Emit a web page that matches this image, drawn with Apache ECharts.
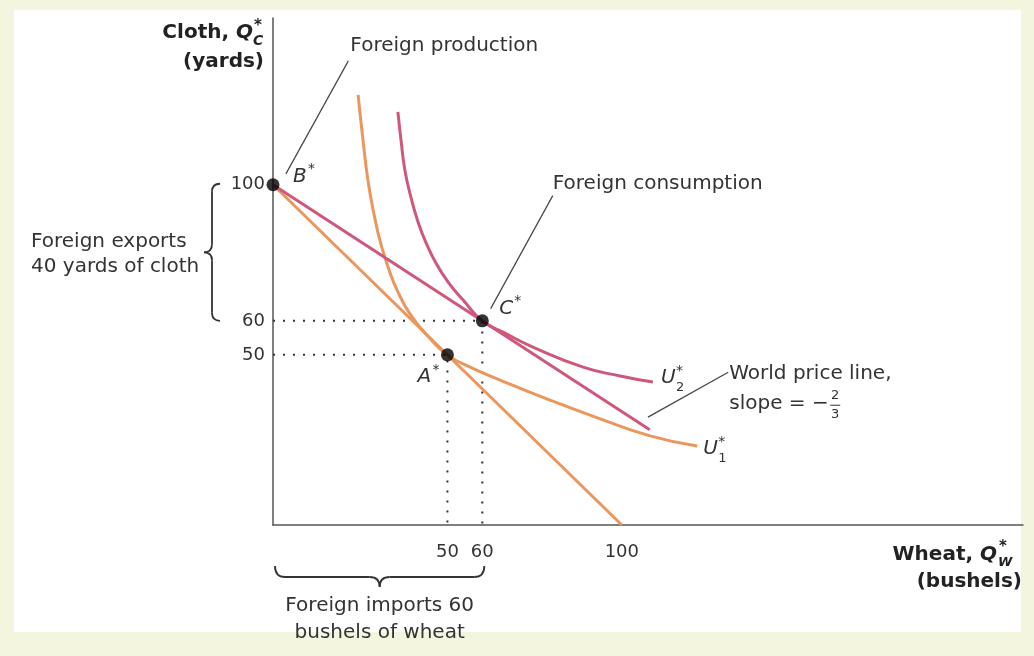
<!DOCTYPE html>
<html><head><meta charset="utf-8">
<script src="https://cdn.jsdelivr.net/npm/echarts/dist/echarts.min.js"></script>
<style>html,body{margin:0;padding:0;background:#f3f5df;}#c{width:1034px;height:656px;}</style>
</head><body><div id="c"></div>
<script>
// ---- data ----
const xTickValues = [50, 60, 100];
const yTickValues = [50, 60, 100];
const ppfLine = [[0, 100], [100, 0]];
const worldPriceLine = [[0, 100], [108, 28]];
const u1Curve = [[24.4,126.4],[25.8,113.1],[27.2,101.4],[29,91.1],[31,82.3],[33.3,74.9],[35.8,68.5],[39.3,62],[44.4,55.5],[50,50],[56.5,46.4],[65.1,42.6],[79.4,36.7],[93.8,31.2],[108.1,26.2],[121.6,23.2]];
const u2Curve = [[35.8,121.4],[36.7,113.1],[37.8,104.3],[39.6,96.1],[41.6,89],[43.9,82.9],[46.7,77],[50.2,71.4],[54.5,66.1],[60,60],[66.5,56.4],[74.5,52.3],[88.9,46.4],[99.5,43.8],[108.9,42]];
const pointNames = ['A', 'B', 'C'];
const pointX = [50, 0, 60];
const pointY = [50, 100, 60];
const guideA = [[0, 50], [50, 50], [50, 0]];
const guideC = [[0, 60], [60, 60], [60, 0]];
const leaderProduction = [[21.6, 136.4], [3.7, 103.2]];
const leaderConsumption = [[80.2, 96.8], [62.4, 63.6]];
const leaderWorld = [[130.5, 44.9], [107.5, 31.7]];

const ORANGE = '#ea965c', PINK = '#cf577a', INK = '#333333', FONT = 'DejaVu Sans';

const chart = echarts.init(document.getElementById('c'), null, {renderer: 'canvas'});
const lineSeries = (data, color, width, extra) => Object.assign({
  type: 'line', data, symbol: 'none', silent: true, animation: false,
  lineStyle: {color, width}, z: 3
}, extra || {});

chart.setOption({
  backgroundColor: '#f3f5df',
  animation: false,
  grid: {left: 273, right: 11, top: 18, bottom: 131, containLabel: false},
  xAxis: {
    type: 'value', min: 0, max: 215, interval: 10,
    axisLine: {lineStyle: {color: '#555', width: 1.5}},
    axisTick: {show: false}, splitLine: {show: false},
    axisLabel: {margin: 18, fontSize: 18, fontFamily: FONT, color: INK, showMaxLabel: false,
      formatter: v => xTickValues.includes(v) ? String(v) : ''}
  },
  yAxis: {
    type: 'value', min: 0, max: 149, interval: 10,
    axisLine: {show: true, lineStyle: {color: '#555', width: 1.5}},
    axisTick: {show: false}, splitLine: {show: false},
    axisLabel: {margin: 8, fontSize: 18, fontFamily: FONT, color: INK, showMaxLabel: false,
      formatter: v => yTickValues.includes(v) ? String(v) : ''}
  },
  series: [
    lineSeries(guideA, '#333', 2, {lineStyle: {color: '#333', width: 2, type: [2, 8]}}),
    lineSeries(guideC, '#333', 2, {lineStyle: {color: '#333', width: 2, type: [2, 8]}}),
    lineSeries(ppfLine, ORANGE, 3),
    lineSeries(u1Curve, ORANGE, 3, {smooth: 0.5}),
    lineSeries(worldPriceLine, PINK, 3),
    lineSeries(u2Curve, PINK, 3, {smooth: 0.5}),
    lineSeries(leaderProduction, '#444', 1.2),
    lineSeries(leaderConsumption, '#444', 1.2),
    lineSeries(leaderWorld, '#444', 1.2),
    {type: 'scatter', silent: true, animation: false, symbolSize: 13, z: 5,
     itemStyle: {color: '#000'},
     data: pointNames.map((n, i) => ({name: n, value: [pointX[i], pointY[i]]}))}
  ]
});

// ---- annotations anchored on the chart's own scales ----
const P = pt => chart.convertToPixel({gridIndex: 0}, pt);
function T(x, y, text, o) {
  o = o || {};
  return {type: 'text', x, y, silent: true, z: 10, style: {
    text, fill: o.fill || INK, fontFamily: FONT, fontSize: o.size || 20,
    fontWeight: o.weight || 'normal', fontStyle: o.style || 'normal',
    align: o.align || 'left', verticalAlign: 'middle',
    textAlign: o.align || 'left', textVerticalAlign: 'middle', lineHeight: o.lh || 24}};
}
const BR = {stroke: '#333', lineWidth: 1.8, fill: null};
const L = (x1, y1, x2, y2) => ({type: 'line', silent: true, z: 10, shape: {x1, y1, x2, y2}, style: BR});
const Qc = (x1, y1, cx, cy, x2, y2) => ({type: 'bezierCurve', silent: true, z: 10, shape: {x1, y1, x2, y2, cpx1: cx, cpy1: cy}, style: BR});

const g = [];
g.push({type: 'rect', shape: {x: 14, y: 10, width: 1007, height: 622}, style: {fill: '#ffffff'}, z: -10, silent: true});

const origin = P([0, 0]);
const rightEdge = 1023;
g.push({type: 'text', x: origin[0] - 20, y: 33, silent: true, z: 10, style: {
  text: '{b|Cloth, }{q|Q}', align: 'right', verticalAlign: 'middle', textAlign: 'right', textVerticalAlign: 'middle',
  rich: {b: {fontFamily: FONT, fontSize: 20, fontWeight: 'bold', fill: '#222'},
         q: {fontFamily: FONT, fontSize: 20, fontWeight: 'bold', fontStyle: 'italic', fill: '#222'}}}});
g.push(T(origin[0] - 19, 26, '*', {size: 15, weight: 'bold', fill: '#222'}));
g.push(T(origin[0] - 20, 41, 'C', {size: 14, weight: 'bold', style: 'italic', fill: '#222'}));
g.push(T(origin[0] - 9, 62, '(yards)', {weight: 'bold', align: 'right', fill: '#222'}));

g.push({type: 'text', x: rightEdge - 26, y: 555, silent: true, z: 10, style: {
  text: '{b|Wheat, }{q|Q}', align: 'right', verticalAlign: 'middle', textAlign: 'right', textVerticalAlign: 'middle',
  rich: {b: {fontFamily: FONT, fontSize: 20, fontWeight: 'bold', fill: '#222'},
         q: {fontFamily: FONT, fontSize: 20, fontWeight: 'bold', fontStyle: 'italic', fill: '#222'}}}});
g.push(T(rightEdge - 24, 547, '*', {size: 15, weight: 'bold', fill: '#222'}));
g.push(T(rightEdge - 25, 563, 'W', {size: 13, weight: 'bold', style: 'italic', fill: '#222'}));
g.push(T(rightEdge - 1, 582, '(bushels)', {weight: 'bold', align: 'right', fill: '#222'}));

function starLabel(anchor, dx, dy, letter, sub) {
  const a = P(anchor);
  g.push(T(a[0] + dx, a[1] + dy, letter, {style: 'italic'}));
  g.push(T(a[0] + dx + 15, a[1] + dy - 7, '*', {size: 14}));
  if (sub) g.push(T(a[0] + dx + 15, a[1] + dy + 10, sub, {size: 13}));
}
starLabel([pointX[1], pointY[1]], 20, -8, 'B');
starLabel([pointX[0], pointY[0]], -30, 22, 'A');
starLabel([pointX[2], pointY[2]], 17, -12, 'C');
starLabel(u2Curve[u2Curve.length - 1], 8, -4, 'U', '2');
starLabel(u1Curve[u1Curve.length - 1], 6, 3, 'U', '1');

let a = P(leaderProduction[0]);
g.push(T(a[0] + 2, a[1] - 15, 'Foreign production'));
a = P(leaderConsumption[0]);
g.push(T(a[0], a[1] - 12, 'Foreign consumption'));
a = P(leaderWorld[0]);
g.push(T(a[0] + 1, a[1] + 2, 'World price line,'));
g.push(T(a[0] + 1, a[1] + 32, 'slope = −'));
g.push(T(a[0] + 107, a[1] + 23, '2', {size: 13, align: 'center'}));
g.push(T(a[0] + 107, a[1] + 42, '3', {size: 13, align: 'center'}));
g.push({type: 'line', silent: true, z: 10, shape: {x1: a[0] + 102, y1: a[1] + 33, x2: a[0] + 112, y2: a[1] + 33}, style: {stroke: INK, lineWidth: 1}});

// left brace: exports of cloth (100 -> 60)
const yb1 = P([0, 100])[1] - 1, yb2 = P([0, 60])[1], ybm = (yb1 + yb2) / 2;
const s = origin[0] - 61, r = 8;
g.push(Qc(s + r, yb1, s, yb1, s, yb1 + r));
g.push(L(s, yb1 + r, s, ybm - r));
g.push(Qc(s, ybm - r, s, ybm, s - r, ybm));
g.push(Qc(s - r, ybm, s, ybm, s, ybm + r));
g.push(L(s, ybm + r, s, yb2 - r));
g.push(Qc(s, yb2 - r, s, yb2, s + r, yb2));
g.push(T(31, ybm + 2, 'Foreign exports\n40 yards of cloth', {lh: 25}));

// bottom brace: imports of wheat (0 -> 60)
const xb1 = P([0, 0])[0] + 2, xb2 = P([60, 0])[0] + 2, xbm = (xb1 + xb2) / 2;
const tY = 566, sp = 577, rr = 10;
g.push(Qc(xb1, tY, xb1, sp, xb1 + rr, sp));
g.push(L(xb1 + rr, sp, xbm - rr, sp));
g.push(Qc(xbm - rr, sp, xbm, sp, xbm, sp + rr));
g.push(Qc(xbm, sp + rr, xbm, sp, xbm + rr, sp));
g.push(L(xbm + rr, sp, xb2 - rr, sp));
g.push(Qc(xb2 - rr, sp, xb2, sp, xb2, tY));
g.push(T(xbm, 619, 'Foreign imports 60\nbushels of wheat', {align: 'center', lh: 27}));

chart.setOption({graphic: g});
</script></body></html>
